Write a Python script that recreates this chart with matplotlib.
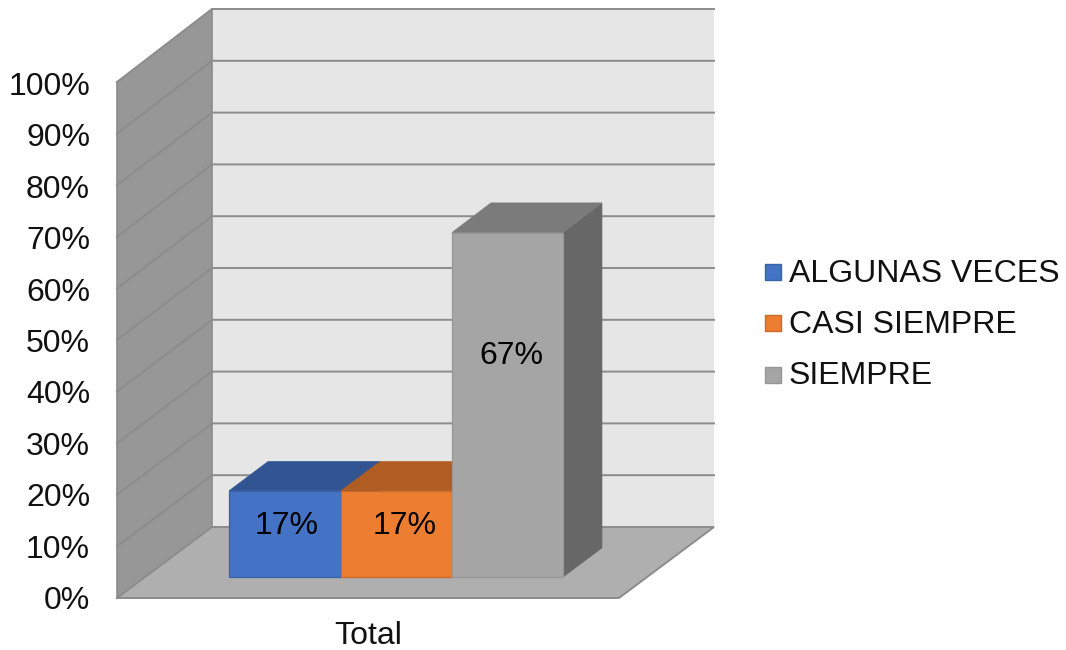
import matplotlib
matplotlib.use("Agg")
import matplotlib.pyplot as plt
from matplotlib.patches import Polygon, Rectangle

plt.rcParams['font.family'] = ['Liberation Sans', 'DejaVu Sans']

################################################################
categories = ["ALGUNAS VECES", "CASI SIEMPRE", "SIEMPRE"]
values = [16.67, 16.67, 66.67]
value_labels = ["17%", "17%", "67%"]
axis_label = "Total"
y_ticks = [0, 10, 20, 30, 40, 50, 60, 70, 80, 90, 100]

front_colors = ["#4472C4", "#ED7D31", "#A5A5A5"]
edge_colors = ["#3A62A8", "#C9692A", "#979797"]
top_colors = ["#325492", "#B05D24", "#7B7B7B"]
side_colors = ["#2A4679", "#934E1E", "#676767"]
################################################################

W, H = 1066, 650
# projection of the chart box, in pixels
X0, X1 = 117, 619
Y0, Y_TOP = 598, 82
DX = 95
DY_BOTTOM, DY_TOP = 71, 73
BAR_X = [229, 341, 452, 563]
BAR_D1, BAR_D2 = 0.296, 0.706
TEXT_COLOR = "#111111"


def proj(x, val, d):
    # x in pixels on the front plane, val in %, d depth 0..1
    dy = DY_BOTTOM + (DY_TOP - DY_BOTTOM) * val / 100
    return x + DX * d, Y0 - (Y0 - Y_TOP) * val / 100 - dy * d


def draw_bar(ax, x0, x1, val, front, edge, top, side):
    # BAR_X was read on the plane of the front face, move it back to depth 0
    x0 -= DX * BAR_D1
    x1 -= DX * BAR_D1
    ax.add_patch(Polygon([proj(x1, 0, BAR_D1), proj(x1, 0, BAR_D2), proj(x1, val, BAR_D2), proj(x1, val, BAR_D1)],
                         fc=side, ec=side, lw=0.5, zorder=3))
    ax.add_patch(Polygon([proj(x0, val, BAR_D1), proj(x1, val, BAR_D1), proj(x1, val, BAR_D2), proj(x0, val, BAR_D2)],
                         fc=top, ec=top, lw=0.5, zorder=3.5))
    ax.add_patch(Polygon([proj(x0, 0, BAR_D1), proj(x1, 0, BAR_D1), proj(x1, val, BAR_D1), proj(x0, val, BAR_D1)],
                         fc=front, ec=edge, lw=0.9, zorder=4))


def main():
    fig = plt.figure(figsize=(W / 100, H / 100), dpi=100)
    ax = fig.add_axes([0, 0, 1, 1])
    ax.set_xlim(0, W)
    ax.set_ylim(H, 0)
    ax.axis("off")

    # back wall, side wall, floor
    ax.add_patch(Polygon([proj(X0, 0, 1), proj(X1, 0, 1), proj(X1, 100, 1), proj(X0, 100, 1)],
                         fc="#E6E6E6", ec="none", zorder=1))
    ax.add_patch(Polygon([proj(X0, 0, 0), proj(X0, 0, 1), proj(X0, 100, 1), proj(X0, 100, 0)],
                         fc="#979797", ec="none", zorder=1))
    ax.add_patch(Polygon([proj(X0, 0, 0), proj(X1, 0, 0), proj(X1, 0, 1), proj(X0, 0, 1)],
                         fc="#AFAFAF", ec="none", zorder=1))

    # gridlines
    for t in y_ticks:
        pts = [proj(X0, t, 0), proj(X0, t, 1), proj(X1, t, 1)]
        if t == 0:
            pts.append(proj(X1, t, 0))
            pts.append(proj(X0, t, 0))
        ax.plot([q[0] for q in pts], [q[1] for q in pts], color="#8C8C8C", lw=1.4, zorder=2,
                solid_joinstyle="miter")
    ax.plot(*zip(proj(X0, 0, 0), proj(X0, 100, 0)), color="#8C8C8C", lw=1.2, zorder=2)
    ax.plot(*zip(proj(X0, 0, 1), proj(X0, 100, 1)), color="#8C8C8C", lw=1.2, zorder=2)

    for i, v in enumerate(values):
        draw_bar(ax, BAR_X[i], BAR_X[i + 1], v, front_colors[i], edge_colors[i], top_colors[i], side_colors[i])

    # value labels
    label_pos = [(287, 526), (405, 526), (511, 356)]
    for (x, y), s in zip(label_pos, value_labels):
        ax.text(x, y, s, fontsize=23, ha="center", va="center", color="black", zorder=6)

    # tick labels run a little tighter than the wall
    for t in y_ticks:
        ax.text(90, 601 - 514 * t / 100, f"{t}%", fontsize=23, ha="right", va="center", color=TEXT_COLOR)
    ax.text(368, 635.5, axis_label, fontsize=23, ha="center", va="center", color=TEXT_COLOR)

    # legend
    for i, name in enumerate(categories):
        y = 271.5 + i * 51.5
        ax.add_patch(Rectangle((765, y - 8), 16, 16, fc=front_colors[i], ec=edge_colors[i], lw=1))
        ax.text(789, y + 2, name, fontsize=23, ha="left", va="center", color=TEXT_COLOR)

    fig.savefig("out.png", dpi=100)


if __name__ == '__main__':
    main()
